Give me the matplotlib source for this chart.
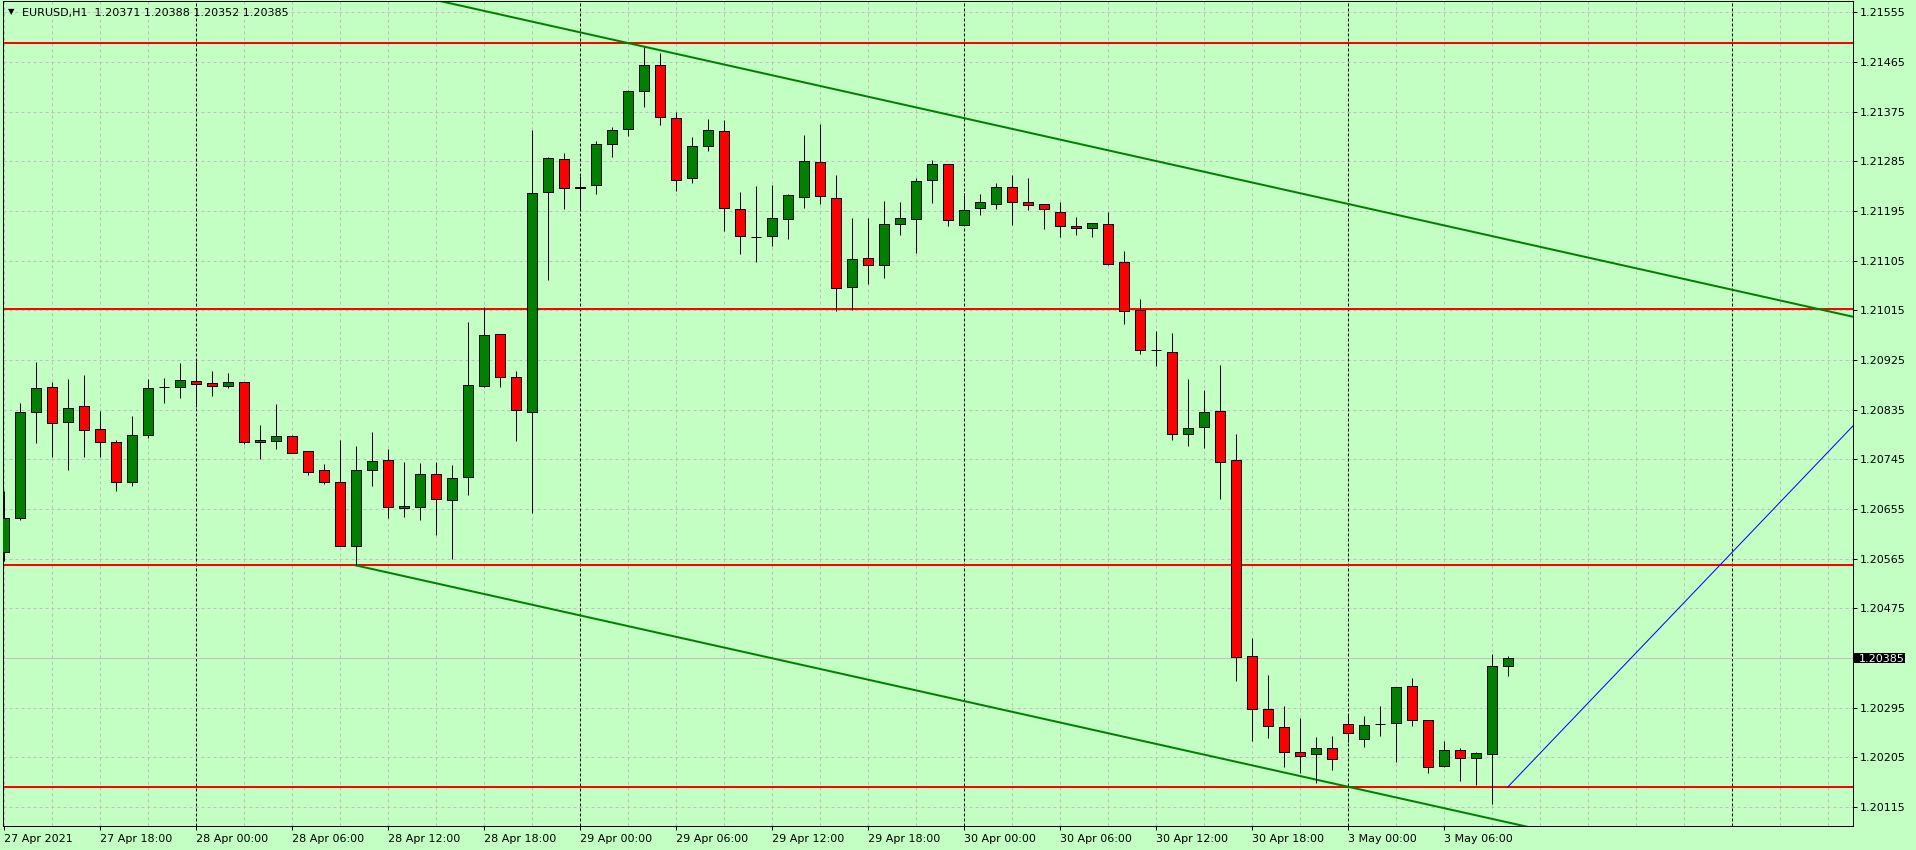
import numpy as np
import matplotlib.pyplot as plt
from matplotlib.patches import Rectangle
from matplotlib.transforms import blended_transform_factory

# EURUSD H1 candles, 27 Apr 2021 12:00 .. 3 May 2021 10:00 (weekend bars skipped)
opens = [1.20577, 1.20638, 1.20830, 1.20876, 1.20812, 1.20841, 1.20800, 1.20776, 1.20704, 1.20790,
         1.20877, 1.20877, 1.20887, 1.20883, 1.20878, 1.20885, 1.20776, 1.20778, 1.20787, 1.20760,
         1.20725, 1.20704, 1.20588, 1.20725, 1.20743, 1.20656, 1.20659, 1.20718, 1.20671, 1.20713,
         1.20878, 1.20972, 1.20895, 1.20830, 1.21229, 1.21289, 1.21236, 1.21242, 1.21316, 1.21343,
         1.21412, 1.21459, 1.21363, 1.21254, 1.21312, 1.21340, 1.21198, 1.21148, 1.21149, 1.21180,
         1.21220, 1.21284, 1.21218, 1.21057, 1.21109, 1.21098, 1.21171, 1.21180, 1.21251, 1.21280,
         1.21169, 1.21200, 1.21208, 1.21238, 1.21212, 1.21207, 1.21194, 1.21167, 1.21164, 1.21171,
         1.21102, 1.21015, 1.20944, 1.20940, 1.20791, 1.20803, 1.20832, 1.20743, 1.20388, 1.20292,
         1.20260, 1.20214, 1.20211, 1.20222, 1.20265, 1.20238, 1.20266, 1.20267, 1.20334, 1.20272,
         1.20189, 1.20218, 1.20204, 1.20211, 1.20371]
highs = [1.20687, 1.20847, 1.20921, 1.20885, 1.20891, 1.20898, 1.20833, 1.20780, 1.20823, 1.20890,
         1.20892, 1.20920, 1.20923, 1.20905, 1.20902, 1.20886, 1.20807, 1.20845, 1.20789, 1.20760,
         1.20737, 1.20780, 1.20769, 1.20794, 1.20764, 1.20740, 1.20739, 1.20740, 1.20734, 1.20994,
         1.21021, 1.20973, 1.20905, 1.21342, 1.21293, 1.21300, 1.21259, 1.21321, 1.21347, 1.21414,
         1.21493, 1.21481, 1.21374, 1.21329, 1.21361, 1.21359, 1.21229, 1.21240, 1.21243, 1.21225,
         1.21332, 1.21353, 1.21260, 1.21182, 1.21182, 1.21213, 1.21211, 1.21254, 1.21287, 1.21281,
         1.21228, 1.21226, 1.21246, 1.21260, 1.21255, 1.21208, 1.21211, 1.21184, 1.21173, 1.21193,
         1.21123, 1.21035, 1.20978, 1.20974, 1.20890, 1.20870, 1.20916, 1.20791, 1.20421, 1.20354,
         1.20299, 1.20276, 1.20242, 1.20243, 1.20283, 1.20280, 1.20298, 1.20332, 1.20348, 1.20273,
         1.20234, 1.20222, 1.20214, 1.20392, 1.20388]
lows = [1.20560, 1.20635, 1.20775, 1.20750, 1.20725, 1.20750, 1.20750, 1.20687, 1.20697, 1.20784,
        1.20848, 1.20857, 1.20840, 1.20859, 1.20875, 1.20773, 1.20745, 1.20764, 1.20756, 1.20716,
        1.20701, 1.20588, 1.20553, 1.20697, 1.20639, 1.20641, 1.20636, 1.20608, 1.20565, 1.20681,
        1.20876, 1.20877, 1.20779, 1.20648, 1.21070, 1.21199, 1.21199, 1.21226, 1.21292, 1.21330,
        1.21384, 1.21350, 1.21232, 1.21246, 1.21304, 1.21158, 1.21118, 1.21103, 1.21132, 1.21145,
        1.21201, 1.21208, 1.21013, 1.21015, 1.21063, 1.21074, 1.21152, 1.21119, 1.21210, 1.21168,
        1.21169, 1.21188, 1.21199, 1.21170, 1.21196, 1.21163, 1.21147, 1.21151, 1.21147, 1.21098,
        1.20991, 1.20936, 1.20914, 1.20780, 1.20769, 1.20766, 1.20673, 1.20343, 1.20234, 1.20241,
        1.20188, 1.20177, 1.20159, 1.20182, 1.20232, 1.20223, 1.20243, 1.20196, 1.20261, 1.20176,
        1.20187, 1.20163, 1.20155, 1.20121, 1.20352]
closes = [1.20638, 1.20830, 1.20874, 1.20810, 1.20838, 1.20798, 1.20776, 1.20704, 1.20790, 1.20874,
          1.20877, 1.20888, 1.20882, 1.20878, 1.20885, 1.20776, 1.20780, 1.20787, 1.20756, 1.20722,
          1.20704, 1.20588, 1.20725, 1.20742, 1.20658, 1.20661, 1.20718, 1.20673, 1.20711, 1.20879,
          1.20970, 1.20895, 1.20834, 1.21227, 1.21291, 1.21237, 1.21239, 1.21316, 1.21341, 1.21412,
          1.21459, 1.21365, 1.21252, 1.21312, 1.21341, 1.21200, 1.21149, 1.21148, 1.21182, 1.21224,
          1.21286, 1.21222, 1.21055, 1.21108, 1.21098, 1.21171, 1.21182, 1.21249, 1.21280, 1.21178,
          1.21196, 1.21211, 1.21238, 1.21211, 1.21205, 1.21198, 1.21167, 1.21164, 1.21173, 1.21099,
          1.21013, 1.20944, 1.20944, 1.20791, 1.20801, 1.20830, 1.20741, 1.20387, 1.20292, 1.20261,
          1.20214, 1.20207, 1.20222, 1.20202, 1.20249, 1.20263, 1.20266, 1.20332, 1.20272, 1.20187,
          1.20218, 1.20204, 1.20213, 1.20371, 1.20385]

tick_bars = [0, 6, 12, 18, 24, 30, 36, 42, 48, 54, 60, 66, 72, 78, 84, 90]
tick_labels = ["27 Apr 2021", "27 Apr 18:00", "28 Apr 00:00", "28 Apr 06:00", "28 Apr 12:00",
               "28 Apr 18:00", "29 Apr 00:00", "29 Apr 06:00", "29 Apr 12:00", "29 Apr 18:00",
               "30 Apr 00:00", "30 Apr 06:00", "30 Apr 12:00", "30 Apr 18:00", "3 May 00:00",
               "3 May 06:00"]
day_starts = [12, 36, 60, 84, 108]
price_ticks = [1.21555, 1.21465, 1.21375, 1.21285, 1.21195, 1.21105, 1.21015, 1.20925, 1.20835,
               1.20745, 1.20655, 1.20565, 1.20475, 1.20385, 1.20295, 1.20205, 1.20115]

levels = [1.21499, 1.21018, 1.20553, 1.20152]
upper_line = [(40, 1.21493), (84, 1.21208)]
lower_line = [(22, 1.20553), (84, 1.20152)]
blue_line = [(94, 1.20151), (115.5, 1.20803)]
last_price = 1.20385
header = "EURUSD,H1  1.20371 1.20388 1.20352 1.20385"

BG = '#c3ffc3'
W, H = 1916, 850
PX = 0.72  # one pixel in points at dpi 100

plt.rcParams['font.family'] = ['DejaVu Sans']
plt.rcParams['font.size'] = 8

fig = plt.figure(figsize=(W / 100, H / 100), dpi=100, facecolor=BG)
ax = fig.add_axes([2.5 / W, (H - 826) / H, 1850 / W, 825 / H])
ax.set_facecolor(BG)
ax.set_xlim(-0.06875, 115.556)
ax.set_ylim(1.200807, 1.215755)

# grid
for b in range(0, 117, 3):
    if b in day_starts:
        ax.axvline(b, color='black', lw=PX, ls=(0, (3, 2)), zorder=0.6)
    else:
        ax.axvline(b, color='#c4bcc4', lw=PX, ls=(0, (3, 3)), zorder=0.5)
for p in price_ticks:
    ax.axhline(p, color='#c4bcc4', lw=PX, ls=(0, (3, 3)), zorder=0.5)

ax.axhline(last_price, color='#c0c0c0', lw=PX, zorder=0.7)

# horizontal levels
for lv in levels:
    ax.axhline(lv, color='#ff0000', lw=2 * PX, zorder=1)


def ray(pts, x_from, x_to, **kw):
    (x1, y1), (x2, y2) = pts
    slope = (y2 - y1) / (x2 - x1)
    xs = np.array([x_from, x_to])
    ax.plot(xs, y1 + slope * (xs - x1), **kw)


ray(upper_line, 20, 117, color='#008000', lw=2 * PX, zorder=1.5)
ray(lower_line, lower_line[0][0], 117, color='#008000', lw=2 * PX, zorder=1.5)
ray(blue_line, blue_line[0][0], 117, color='#0000ff', lw=PX, zorder=1.5)

# candles
o = np.array(opens)
h = np.array(highs)
l = np.array(lows)
c = np.array(closes)
x = np.arange(len(o))
colors = np.where(c >= o, '#008000', '#ff0000')
ax.vlines(x, l, h, color='black', lw=PX, zorder=3)
ax.bar(x, c - o, bottom=o, width=0.62, color=colors, edgecolor='black', linewidth=PX, zorder=4)

# axes look
for s in ax.spines.values():
    s.set_color('black')
    s.set_linewidth(PX)

ax.yaxis.tick_right()
ax.set_yticks(price_ticks)
ax.set_yticklabels(["" if p == last_price else f"{p:.5f}" for p in price_ticks])
ax.tick_params(axis='y', direction='out', length=3, width=PX, pad=2, labelsize=8,
               colors='black')
ax.set_xticks(tick_bars)
ax.set_xticklabels(tick_labels, ha='left')
ax.tick_params(axis='x', direction='out', length=3, width=PX, pad=3, labelsize=8,
               colors='black')

# current price tag
tr = blended_transform_factory(ax.transAxes, ax.transData)
tag_h = 0.000181
ax.add_patch(Rectangle((1.001, last_price - tag_h / 2), 0.0276, tag_h, transform=tr,
                       facecolor='black', edgecolor='none', clip_on=False, zorder=10))
ax.text(1.00368, last_price, f"{last_price:.5f}", transform=tr, color='white', fontsize=8,
        ha='left', va='center_baseline', clip_on=False, zorder=11)

# header
fig.text(11 / W, 1 - 12 / H, "\u25bc", fontsize=6, ha='center', va='center', color='black')
fig.text(21.7 / W, 1 - 12.7 / H, header, fontsize=8, ha='left', va='center', color='black')

fig.savefig('out.png', dpi=100, facecolor=BG)
